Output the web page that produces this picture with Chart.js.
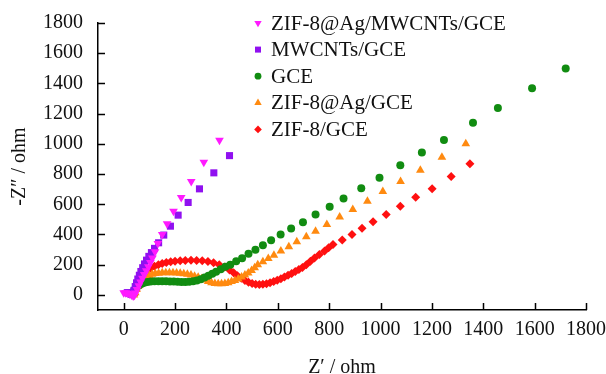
<!DOCTYPE html>
<html>
<head>
<meta charset="utf-8">
<script src="https://cdn.jsdelivr.net/npm/chart.js@4"></script>
<style>
  body { margin: 0; background: #fff; }
  canvas { display: block; }
</style>
</head>
<body>
<canvas id="eis" width="606" height="374"></canvas>
<script>
/** Nyquist data, [Z', -Z''] in ohm **/
const seriesLabels = ["ZIF-8@Ag/MWCNTs/GCE", "MWCNTs/GCE", "GCE", "ZIF-8@Ag/GCE", "ZIF-8/GCE"];

const zifAgMwcnts = [[0,15],[8,14],[16,11],[24,6],[31,0],[37,-8],[42,-3],[46,12],[52,35],[59,60],[66,85],[73,110],[80,135],[88,160],[96,187],[104,215],[112,245],[122,285],[133,341],[150,400],[169,471],[194,554],[224,645],[263,751],[312,878],[373,1024]];

const mwcnts = [[14,15],[20,12],[26,8],[31,5],[36,10],[40,30],[45,55],[50,80],[55,105],[61,130],[67,155],[74,180],[81,205],[89,230],[98,255],[108,280],[120,308],[136,345],[156,396],[182,455],[212,528],[251,612],[295,702],[351,808],[412,922]];

const gce = [[30,5],[35,15],[40,28],[46,42],[53,55],[61,66],[70,74],[80,80],[92,85],[105,88],[120,90],[135,91],[150,91],[165,90],[180,89],[195,88],[210,87],[225,86],[240,86],[255,87],[270,90],[285,96],[300,104],[315,115],[330,127],[345,140],[360,153],[378,170],[396,186],[415,200],[438,222],[461,243],[486,272],[513,299],[542,329],[574,362],[611,400],[652,440],[698,481],[747,532],[802,583],[856,638],[925,706],[996,775],[1077,858],[1161,942],[1247,1026],[1360,1139],[1457,1238],[1590,1368],[1721,1498]];

const zifAg = [[40,0],[45,15],[50,35],[56,55],[63,75],[71,93],[80,108],[90,120],[100,129],[111,136],[123,141],[136,144],[150,146],[164,147],[178,147],[192,146],[206,145],[220,143],[234,140],[248,136],[262,131],[276,124],[290,116],[303,107],[316,98],[329,89],[342,81],[355,76],[368,73],[381,73],[394,76],[407,81],[420,88],[433,96],[446,106],[459,118],[472,131],[485,145],[498,162],[510,180],[522,200],[542,220],[563,241],[585,263],[612,290],[643,319],[674,352],[711,385],[747,422],[791,466],[841,515],[892,565],[949,620],[1009,685],[1078,751],[1155,825],[1239,911],[1332,1000]];

const zif8 = [[40,0],[48,30],[56,65],[64,95],[73,122],[83,145],[94,163],[106,178],[120,190],[135,200],[150,208],[166,214],[183,219],[200,223],[220,226],[240,228],[262,229],[284,228],[306,226],[328,221],[350,213],[372,200],[393,184],[412,165],[428,146],[443,127],[458,110],[472,96],[486,84],[500,76],[514,71],[528,69],[542,70],[556,74],[570,80],[584,88],[598,97],[612,107],[626,118],[640,130],[654,142],[668,155],[682,168],[696,182],[711,200],[727,222],[743,245],[762,268],[782,290],[798,312],[815,334],[851,364],[889,400],[928,441],[971,485],[1022,533],[1077,587],[1137,647],[1201,703],[1275,784],[1348,868]];

const xTicks = [0, 200, 400, 600, 800, 1000, 1200, 1400, 1600, 1800];
const yTicks = [0, 200, 400, 600, 800, 1000, 1200, 1400, 1600, 1800];

const serif = "'Liberation Serif', 'Times New Roman', Times, serif";

function toPoints(arr) {
  return arr.map(function(p) { return {x: p[0], y: p[1]}; });
}

function makeSet(label, data, color, style, radius, rotation) {
  return {
    label: label,
    data: toPoints(data),
    backgroundColor: color,
    borderColor: color,
    borderWidth: 0,
    pointStyle: style,
    pointRadius: radius,
    pointRotation: rotation || 0,
    showLine: false
  };
}

// inward tick marks on both axes
const innerTicks = {
  id: 'innerTicks',
  afterDraw(chart) {
    const ctx = chart.ctx;
    const xs = chart.scales.x, ys = chart.scales.y;
    const area = chart.chartArea;
    ctx.save();
    ctx.strokeStyle = '#000';
    ctx.lineWidth = 1.5;
    ctx.beginPath();
    xTicks.forEach(function(v) {
      const px = Math.round(xs.getPixelForValue(v)) + 0.5;
      ctx.moveTo(px, area.bottom);
      ctx.lineTo(px, area.bottom - 7);
    });
    yTicks.forEach(function(v) {
      const py = Math.round(ys.getPixelForValue(v)) + 0.5;
      ctx.moveTo(area.left, py);
      ctx.lineTo(area.left + 7, py);
    });
    ctx.stroke();
    ctx.restore();
  }
};

// legend drawn inside the plot, top right
const insideLegend = {
  id: 'insideLegend',
  afterDraw(chart) {
    const ctx = chart.ctx;
    const markX = 258, textX = 271, top = 23, rowH = 26.6;
    ctx.save();
    ctx.font = '21px ' + serif;
    ctx.textBaseline = 'middle';
    ctx.textAlign = 'left';
    chart.data.datasets.forEach(function(ds, i) {
      const y = top + i * rowH;
      ctx.fillStyle = ds.backgroundColor;
      Chart.helpers.drawPoint(ctx, {
        pointStyle: ds.pointStyle,
        radius: ds.pointRadius * 0.85,
        rotation: ds.pointRotation,
        borderWidth: 0
      }, markX, y);
      ctx.fillStyle = '#111';
      ctx.fillText(ds.label, textX, y + 1);
    });
    ctx.restore();
  }
};

function plainLabel(value) {
  return String(value);
}

new Chart(document.getElementById('eis'), {
  type: 'scatter',
  data: {
    datasets: [
      makeSet(seriesLabels[0], zifAgMwcnts, '#ff1aff', 'triangle', 5, 180),
      makeSet(seriesLabels[1], mwcnts, '#9010f0', 'rect', 5),
      makeSet(seriesLabels[2], gce, '#118c11', 'circle', 4),
      makeSet(seriesLabels[3], zifAg, '#ff8a10', 'triangle', 5),
      makeSet(seriesLabels[4], zif8, '#ff1010', 'rectRot', 4.5)
    ]
  },
  options: {
    responsive: false,
    animation: false,
    layout: { padding: { top: 23, right: 20, left: 0, bottom: 0 } },
    plugins: {
      legend: { display: false },
      tooltip: { enabled: false }
    },
    scales: {
      x: {
        type: 'linear',
        position: 'bottom',
        min: -100,
        max: 1800,
        afterBuildTicks: function(scale) {
          scale.ticks = xTicks.map(function(v) { return {value: v}; });
        },
        afterFit: function(scale) { scale.height = 64; },
        grid: { display: false },
        border: { display: true, color: '#000', width: 1.5 },
        ticks: {
          color: '#111',
          padding: 0,
          maxRotation: 0,
          callback: plainLabel,
          font: { family: serif, size: 20 }
        },
        title: {
          display: true,
          text: 'Z\u2032 / ohm',
          color: '#111',
          padding: { top: 0, bottom: -6 },
          font: { family: serif, size: 20 }
        }
      },
      y: {
        type: 'linear',
        position: 'left',
        min: -100,
        max: 1800,
        afterBuildTicks: function(scale) {
          scale.ticks = yTicks.map(function(v) { return {value: v}; });
        },
        afterFit: function(scale) { scale.width = 98; },
        grid: { display: false },
        border: { display: true, color: '#000', width: 1.5 },
        ticks: {
          color: '#111',
          padding: 7,
          callback: plainLabel,
          font: { family: serif, size: 20 }
        },
        title: {
          display: true,
          text: '-Z\u2033 / ohm',
          color: '#111',
          padding: { top: 8, bottom: 0 },
          font: { family: serif, size: 20 }
        }
      }
    }
  },
  plugins: [innerTicks, insideLegend]
});
</script>
</body>
</html>
